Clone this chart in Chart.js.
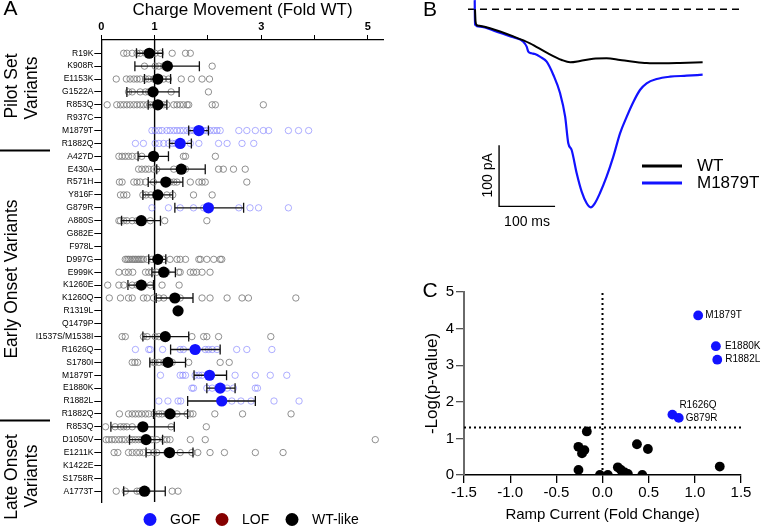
<!DOCTYPE html>
<html>
<head>
<meta charset="utf-8">
<title>Charge movement, ramp currents and volcano plot</title>
<script src="https://cdn.jsdelivr.net/npm/chart.js@4.4.1/dist/chart.umd.min.js"></script>
<style>
  body { margin: 0; background: #fff; }
  #fig { position: relative; width: 763px; height: 527px; overflow: hidden; }
  #fig canvas { position: absolute; }
</style>
</head>
<body>
<div id="fig">
  <canvas id="chartA" width="390" height="527" style="left:0;top:0"></canvas>
  <canvas id="chartB" width="343" height="241" style="left:420px;top:0"></canvas>
  <canvas id="chartC" width="383" height="257" style="left:380px;top:270px"></canvas>
</div>
<script>
// ---- Panel A: charge movement per variant (fold WT) ----
const ROW_LABELS = ['R19K', 'K908R', 'E1153K', 'G1522A', 'R853Q', 'R937C', 'M1879T', 'R1882Q',
  'A427D', 'E430A', 'R571H', 'Y816F', 'G879R', 'A880S', 'G882E', 'F978L', 'D997G', 'E999K',
  'K1260E', 'K1260Q', 'R1319L', 'Q1479P', 'I1537S/M1538I', 'R1626Q', 'S1780I', 'M1879T',
  'E1880K', 'R1882L', 'R1882Q', 'R853Q', 'D1050V', 'E1211K', 'K1422E', 'S1758R', 'A1773T'];
const GOF_ROWS = [6, 7, 12, 23, 25, 26, 27];

const MEANS = [0.90, 1.24, 1.06, 0.97, 1.06, null, 1.83, 1.48, 0.98, 1.50, 1.21, 1.06, 2.01, 0.75,
  null, null, 1.06, 1.17, 0.75, 1.38, 1.44, null, 1.20, 1.76, 1.25, 2.03, 2.23, 2.26, 1.29, 0.78,
  0.84, 1.28, null, null, 0.81];
const ERR_LO = [0.66, 0.63, 0.81, 0.48, 0.88, null, 1.64, 1.28, 0.69, 1.04, 0.88, 0.78, 1.38, 0.38,
  null, null, 0.89, 0.95, 0.50, 1.03, null, null, 0.78, 1.30, 0.91, 1.74, 1.98, 1.62, 0.98, 0.18,
  0.53, 0.84, null, null, 0.42];
const ERR_HI = [1.15, 1.84, 1.30, 1.46, 1.23, null, 2.01, 1.69, 1.26, 1.95, 1.53, 1.34, 2.67, 1.11,
  null, null, 1.21, 1.39, 0.98, 1.72, null, null, 1.64, 2.23, 1.58, 2.35, 2.51, 2.89, 1.62, 1.37,
  1.15, 1.72, null, null, 1.20];

// individual cells, one list per row
const CELL_VALUES = [
  [0.42, 0.48, 0.58, 0.67, 0.73, 0.83, 0.92, 1.01, 1.11, 1.33, 1.58, 1.67],
  [0.81, 1.01, 1.08, 1.17, 1.23, 2.08],
  [0.28, 0.47, 0.54, 0.61, 0.67, 0.73, 0.83, 0.89, 0.98, 1.08, 1.17, 1.26, 1.50, 1.69, 1.89, 2.03],
  [0.51, 0.58, 0.73, 0.83, 0.89, 1.01, 1.31, 2.01],
  [0.11, 0.29, 0.36, 0.42, 0.48, 0.54, 0.61, 0.67, 0.73, 0.79, 0.86, 0.92, 0.98, 1.04, 1.11, 1.17,
    1.23, 1.36, 1.42, 1.48, 1.54, 1.61, 1.64, 2.08, 2.14, 3.04],
  [],
  [0.95, 1.01, 1.08, 1.14, 1.23, 1.29, 1.36, 1.42, 1.48, 1.54, 1.61, 1.67, 1.73, 1.79, 1.86, 1.92,
    1.98, 2.04, 2.11, 2.17, 2.23, 2.58, 2.73, 2.89, 3.04, 3.14, 3.51, 3.70, 3.89],
  [0.64, 0.79, 1.01, 1.08, 1.17, 1.26, 1.33, 1.39, 1.51, 1.67, 1.83, 2.20, 2.36, 2.64, 2.86],
  [0.33, 0.39, 0.45, 0.51, 0.58, 0.67, 0.76, 1.54, 1.58, 2.14],
  [0.70, 0.76, 0.83, 0.89, 0.98, 1.04, 1.36, 1.51, 1.58, 2.20, 2.29, 2.48, 2.70],
  [0.34, 0.39, 0.61, 0.67, 0.73, 0.83, 0.98, 1.29, 1.36, 1.42, 1.67, 1.83, 1.89, 1.95, 2.73],
  [0.36, 0.42, 0.48, 0.78, 0.84, 0.93, 1.04, 1.23, 1.34, 1.73, 2.08],
  [0.95, 1.26, 1.48, 1.73, 1.92, 2.01, 2.58, 2.79, 2.95, 3.51],
  [0.33, 0.36, 0.42, 0.48, 0.58, 0.67, 0.76, 0.92, 1.19, 1.98],
  [],
  [],
  [0.45, 0.48, 0.51, 0.54, 0.58, 0.61, 0.64, 0.67, 0.70, 0.73, 0.76, 0.79, 0.86, 0.95, 1.08, 1.17,
    1.29, 1.42, 1.48, 1.58, 1.83, 1.86, 1.98, 2.11, 2.23, 2.26],
  [0.33, 0.45, 0.51, 0.59, 0.83, 0.89, 0.95, 1.04, 1.23, 1.45, 1.48, 1.67, 1.73, 1.79, 1.89, 2.04],
  [0.12, 0.33, 0.42, 0.58, 0.67, 0.79, 0.92, 1.14, 1.46],
  [0.15, 0.36, 0.51, 0.58, 0.79, 0.86, 0.98, 1.08, 1.17, 1.36, 1.48, 1.89, 2.04, 2.36, 2.64, 2.76, 3.65],
  [],
  [],
  [0.39, 0.45, 0.79, 0.86, 1.01, 1.08, 1.17, 1.70, 1.92, 1.98, 2.20, 3.18],
  [0.64, 0.89, 0.92, 1.15, 1.48, 1.54, 1.95, 2.01, 2.08, 2.17, 2.54, 2.73, 3.20],
  [0.58, 0.63, 0.68, 0.98, 1.01, 1.08, 1.17, 1.33, 1.64, 2.23, 2.40],
  [1.11, 1.48, 1.53, 1.58, 1.76, 1.83, 1.89, 2.51, 2.89, 3.17, 3.48],
  [1.70, 1.73, 1.98, 2.08, 2.23, 2.36, 2.48, 2.89, 2.93],
  [1.08, 1.25, 1.44, 1.49, 2.23, 2.45, 2.62, 2.81, 3.24, 3.71],
  [0.34, 0.51, 0.58, 0.64, 0.70, 0.76, 0.83, 0.89, 0.99, 1.08, 1.14, 1.23, 1.33, 1.42, 1.61, 1.67,
    1.72, 2.13, 2.65, 3.56],
  [0.08, 0.26, 0.36, 0.42, 0.48, 0.58, 1.31, 1.97],
  [0.09, 0.14, 0.20, 0.26, 0.33, 0.39, 0.45, 0.53, 0.58, 0.64, 0.70, 0.76, 0.83, 0.95, 1.04, 1.17,
    1.23, 1.29, 1.67, 1.95, 5.14],
  [0.24, 0.31, 0.51, 0.58, 0.66, 0.72, 0.79, 0.89, 0.98, 1.04, 1.23, 1.48, 1.70, 1.81, 2.04, 2.31, 2.89, 3.41],
  [],
  [],
  [0.28, 0.45, 0.67, 0.72, 0.86, 1.33, 1.44]
];
const A_X_TICK_LABELS = ['0', '1', '', '3', '', '5'];
const A_LEGEND = ['GOF', 'LOF', 'WT-like'];

// ---- Panel B: ramp current traces (ms, pA) ----
const TRACE_NAMES = ['WT', 'M1879T'];
const WT_TIME = [0, 1, 3, 8, 26.8, 68.5, 98.2, 128, 155, 170, 187.5, 211, 235, 259, 283, 306.5, 336, 366, 406.5];
const WT_CURRENT = [0, -20, -25.7, -27, -31.1, -44.5, -55.8, -71.1, -83.1, -86.9, -84.8, -81, -80.3,
  -83.1, -85.9, -88, -88.5, -88, -86.9];
const MUT_TIME = [-0.5, 0, 8.9, 38.7, 68.5, 86.3, 92.3, 95.2, 101, 107, 116, 128, 140, 152, 161,
  166.6, 172.6, 181.6, 190.5, 199.4, 206.6, 214, 223, 235, 247, 259, 271, 283, 294.6, 306.5, 324.5,
  348, 378, 406.5];
const MUT_CURRENT = [15, -25, -28.5, -36.7, -46, -53.1, -61.3, -69.5, -72.1, -73.3, -77.7, -85.9,
  -107.7, -137.7, -176, -219.7, -230.7, -268.9, -299, -318, -324.6, -318, -301.6, -274.4, -241.6,
  -203.3, -176, -151.5, -132.3, -121.3, -114.3, -110.5, -108.9, -107.2];
const BASELINE_TIME = [-12.5, 477];
const SCALE_BAR_ORIGIN = [43, -323];
const SCALE_BAR_MS = 100;
const SCALE_BAR_PA = 100;

// ---- Panel C: volcano plot ----
const C_GOF_NAMES = ['M1879T', 'E1880K', 'R1882L', 'R1626Q', 'G879R'];
const C_GOF_X = [1.036, 1.228, 1.243, 0.757, 0.826];
const C_GOF_Y = [4.36, 3.52, 3.15, 1.65, 1.56];
const C_WT_X = [-0.261, -0.222, -0.196, -0.170, -0.260, -0.028, 0.058, 0.166, 0.200, 0.240, 0.275, 0.373, 0.492, 0.431, 1.270];
const C_WT_Y = [0.77, 0.59, 0.68, 1.19, 0.14, 0, 0, 0.21, 0.14, 0.07, 0.03, 0.84, 0.71, 0, 0.23];
const C_X_TICKS = ['-1.5', '-1.0', '-0.5', '0.0', '0.5', '1.0', '1.5'];
const C_Y_TICKS = ['0', '1', '2', '3', '4', '5'];
const P_THRESHOLD = 1.3;

const FONT = "'Liberation Sans', Arial, Helvetica, sans-serif";
const BLUE = '#1212ff';
const GREY_RING = 'rgba(125,125,125,0.85)';
const BLUE_RING = 'rgba(110,110,255,0.55)';
const LOF_RED = '#850000';

Chart.defaults.font.family = FONT;
Chart.defaults.color = '#000';
Chart.defaults.animation = false;

const isGof = i => GOF_ROWS.includes(i);

// ---------------- Panel A ----------------
const A_Y_MIN = -1.03, A_Y_MAX = 34.84;

const meanPoints = [], meanColors = [];
MEANS.forEach((m, i) => {
  if (m == null) return;
  meanPoints.push({ x: m, y: i });
  meanColors.push(isGof(i) ? BLUE : '#000');
});
const greyCells = [], blueCells = [];
CELL_VALUES.forEach((vals, i) => {
  vals.forEach(v => (isGof(i) ? blueCells : greyCells).push({ x: v, y: i }));
});

const errorBars = {
  id: 'errorBars',
  beforeDatasetDraw(chart, args) {
    if (args.index !== 0) return;
    const { ctx, scales: { x, y } } = chart;
    ctx.save();
    ctx.strokeStyle = '#111';
    ctx.lineWidth = 1.3;
    ERR_LO.forEach((lo, i) => {
      const hi = ERR_HI[i];
      if (lo == null || hi == null) return;
      const py = y.getPixelForValue(i);
      const x0 = x.getPixelForValue(lo), x1 = x.getPixelForValue(hi);
      ctx.beginPath();
      ctx.moveTo(x0, py); ctx.lineTo(x1, py);
      ctx.moveTo(x0, py - 5); ctx.lineTo(x0, py + 5);
      ctx.moveTo(x1, py - 5); ctx.lineTo(x1, py + 5);
      ctx.stroke();
    });
    ctx.restore();
  }
};

function rotatedText(ctx, text, x, y) {
  ctx.save();
  ctx.translate(x, y);
  ctx.rotate(-Math.PI / 2);
  ctx.fillText(text, 0, 0);
  ctx.restore();
}

const panelADecor = {
  id: 'panelADecor',
  afterDraw(chart) {
    const { ctx, scales: { y } } = chart;
    ctx.save();
    ctx.fillStyle = '#000';
    ctx.textAlign = 'center';
    ctx.textBaseline = 'middle';
    ctx.font = `21px ${FONT}`;
    ctx.fillText('A', 10.5, 9.5);

    ctx.font = `17.5px ${FONT}`;
    rotatedText(ctx, 'Pilot Set', 12, 86);
    rotatedText(ctx, 'Variants', 32, 88);
    rotatedText(ctx, 'Early Onset Variants', 12, 279);
    rotatedText(ctx, 'Late Onset', 12, 477);
    rotatedText(ctx, 'Variants', 32, 476);

    // group separators between row blocks
    ctx.strokeStyle = '#000';
    ctx.lineWidth = 2;
    [7.5, 28.5].forEach(r => {
      const py = Math.round(y.getPixelForValue(r)) + 0.5;
      ctx.beginPath(); ctx.moveTo(0, py); ctx.lineTo(50, py); ctx.stroke();
    });

    // legend
    const legendColors = [BLUE, LOF_RED, '#000'];
    const legendX = [150, 222, 292];
    ctx.font = `14px ${FONT}`;
    ctx.textAlign = 'left';
    A_LEGEND.forEach((name, i) => {
      ctx.fillStyle = legendColors[i];
      ctx.beginPath(); ctx.arc(legendX[i], 519.5, 6.5, 0, Math.PI * 2); ctx.fill();
      ctx.fillStyle = '#000';
      ctx.fillText(name, legendX[i] + 20, 520);
    });
    ctx.restore();
  }
};

new Chart(document.getElementById('chartA'), {
  type: 'scatter',
  data: {
    datasets: [
      { label: 'mean', data: meanPoints, pointRadius: 5.6, pointHoverRadius: 5.6,
        pointBackgroundColor: meanColors, pointBorderWidth: 0, order: 0 },
      { label: 'GOF cells', data: blueCells, pointRadius: 3.2, pointBorderWidth: 1,
        pointBorderColor: BLUE_RING, pointBackgroundColor: 'rgba(0,0,0,0)', order: 2 },
      { label: 'cells', data: greyCells, pointRadius: 3.2, pointBorderWidth: 1,
        pointBorderColor: GREY_RING, pointBackgroundColor: 'rgba(0,0,0,0)', order: 3 },
      { label: 'WT', data: [{ x: 1, y: A_Y_MIN }, { x: 1, y: A_Y_MAX }], showLine: true,
        borderColor: '#000', borderWidth: 1.4, pointRadius: 0, order: 4 }
    ]
  },
  options: {
    responsive: false,
    layout: { padding: { left: 0, top: 0, right: 6.2, bottom: 25 } },
    plugins: { legend: { display: false }, tooltip: { enabled: false } },
    scales: {
      x: {
        type: 'linear', position: 'top', min: 0, max: 5.3,
        afterFit: s => { s.height = 40; },
        ticks: {
          stepSize: 1, includeBounds: false, padding: 1,
          font: { size: 11, weight: 'bold' },
          callback: (v) => A_X_TICK_LABELS[v] ?? ''
        },
        grid: { drawOnChartArea: false, drawTicks: true, tickLength: 5, color: '#000' },
        border: { display: true, color: '#000', width: 1.3 },
        title: { display: true, text: 'Charge Movement (Fold WT)', font: { size: 17 },
          padding: { top: 0.5, bottom: 0 } }
      },
      y: {
        type: 'linear', reverse: true, min: A_Y_MIN, max: A_Y_MAX,
        afterFit: s => { s.width = 101.3; },
        afterBuildTicks: s => { s.ticks = ROW_LABELS.map((_, i) => ({ value: i })); },
        ticks: {
          autoSkip: false, padding: 1, font: { size: 8.5 },
          callback: (v) => ROW_LABELS[v] ?? ''
        },
        grid: { drawOnChartArea: false, drawTicks: true, tickLength: 7, color: '#000' },
        border: { display: true, color: '#000', width: 1.3 }
      }
    }
  },
  plugins: [errorBars, panelADecor]
});

// ---------------- Panel B ----------------
const toPoints = (xs, ys) => xs.map((x, i) => ({ x, y: ys[i] }));
const sb = SCALE_BAR_ORIGIN;

const panelBDecor = {
  id: 'panelBDecor',
  afterDraw(chart) {
    const { ctx, scales: { x, y } } = chart;
    ctx.save();
    ctx.fillStyle = '#000';
    ctx.textAlign = 'center';
    ctx.textBaseline = 'middle';
    ctx.font = `21px ${FONT}`;
    ctx.fillText('B', 10, 10.5);

    const bx = x.getPixelForValue(sb[0]);
    const by = y.getPixelForValue(sb[1]);
    ctx.font = `14px ${FONT}`;
    ctx.fillText(`${SCALE_BAR_MS} ms`, bx + 28, by + 16);
    rotatedText(ctx, `${SCALE_BAR_PA} pA`, bx - 11, by - 31);

    const colors = ['#000', BLUE];
    ctx.textAlign = 'left';
    ctx.font = `17px ${FONT}`;
    TRACE_NAMES.forEach((name, i) => {
      const ly = 166 + i * 17;
      ctx.strokeStyle = colors[i];
      ctx.lineWidth = 3;
      ctx.beginPath(); ctx.moveTo(222, ly); ctx.lineTo(262, ly); ctx.stroke();
      ctx.fillText(name, 277, ly + 0.5);
    });
    ctx.restore();
  }
};

new Chart(document.getElementById('chartB'), {
  type: 'scatter',
  data: {
    datasets: [
      { label: 'WT', data: toPoints(WT_TIME, WT_CURRENT), showLine: true, borderColor: '#000',
        borderWidth: 2, pointRadius: 0, cubicInterpolationMode: 'monotone', order: 0 },
      { label: 'M1879T', data: toPoints(MUT_TIME, MUT_CURRENT), showLine: true, borderColor: BLUE,
        borderWidth: 2.2, pointRadius: 0, cubicInterpolationMode: 'monotone', order: 1 },
      { label: 'baseline', data: toPoints(BASELINE_TIME, [0, 0]), showLine: true, borderColor: '#000',
        borderWidth: 1.5, borderDash: [7, 5], pointRadius: 0, order: 2 },
      { label: 'scale bar', showLine: true, borderColor: '#000', borderWidth: 1.4, pointRadius: 0, order: 3,
        data: [{ x: sb[0], y: sb[1] + SCALE_BAR_PA }, { x: sb[0], y: sb[1] }, { x: sb[0] + SCALE_BAR_MS, y: sb[1] }] }
    ]
  },
  options: {
    responsive: false,
    layout: { padding: 0 },
    plugins: { legend: { display: false }, tooltip: { enabled: false } },
    scales: {
      x: { type: 'linear', display: false, min: -98.2, max: 514.3 },
      y: { type: 'linear', display: false, min: -379.8, max: 15.2 }
    }
  },
  plugins: [panelBDecor]
});

// ---------------- Panel C ----------------
const panelCDecor = {
  id: 'panelCDecor',
  afterDraw(chart) {
    const { ctx, scales: { x, y } } = chart;
    ctx.save();
    ctx.fillStyle = '#000';
    ctx.textAlign = 'center';
    ctx.textBaseline = 'middle';
    ctx.font = `21px ${FONT}`;
    ctx.fillText('C', 50, 21);

    // label offsets in px for the named points
    const offs = [[7, 0], [9, 0], [8, 0], [7, -9], [7, 0]];
    ctx.font = `10px ${FONT}`;
    ctx.textAlign = 'left';
    C_GOF_NAMES.forEach((name, i) => {
      const px = x.getPixelForValue(C_GOF_X[i]) + offs[i][0];
      const py = y.getPixelForValue(C_GOF_Y[i]) + offs[i][1];
      ctx.fillText(name, px, py);
    });
    ctx.restore();
  }
};

new Chart(document.getElementById('chartC'), {
  type: 'scatter',
  data: {
    datasets: [
      { label: 'GOF', data: toPoints(C_GOF_X, C_GOF_Y), pointRadius: 4.9, pointBorderWidth: 0,
        pointBackgroundColor: BLUE, order: 0 },
      { label: 'WT-like', data: toPoints(C_WT_X, C_WT_Y), pointRadius: 4.9, pointBorderWidth: 0,
        pointBackgroundColor: '#000', order: 1, clip: { left: 10, top: 10, right: 10, bottom: 0 } },
      { label: 'p = 0.05', data: toPoints([-1.5, 1.5], [P_THRESHOLD, P_THRESHOLD]), showLine: true,
        borderColor: '#000', borderWidth: 2, borderDash: [2, 3], pointRadius: 0, order: 2 },
      { label: 'zero', data: toPoints([0, 0], [0, 5]), showLine: true,
        borderColor: '#000', borderWidth: 2, borderDash: [2, 3], pointRadius: 0, order: 3 }
    ]
  },
  options: {
    responsive: false,
    layout: { padding: { left: 40, top: 22, right: 22, bottom: 0 } },
    plugins: { legend: { display: false }, tooltip: { enabled: false } },
    scales: {
      x: {
        type: 'linear', min: -1.5, max: 1.5,
        afterFit: s => { s.height = 52; },
        ticks: { stepSize: 0.5, padding: 1, font: { size: 15 },
          callback: (v) => C_X_TICKS[Math.round((v + 1.5) * 2)] },
        grid: { drawOnChartArea: false, tickLength: 8, color: '#000', lineWidth: 1.3 },
        border: { display: true, color: '#000', width: 1.5 },
        title: { display: true, text: 'Ramp Current (Fold Change)', font: { size: 15 },
          padding: { top: 0, bottom: 3 } }
      },
      y: {
        type: 'linear', min: 0, max: 5,
        afterFit: s => { s.width = 44; },
        ticks: { stepSize: 1, padding: 2, font: { size: 15 },
          callback: (v) => C_Y_TICKS[v] },
        grid: { drawOnChartArea: false, tickLength: 8, color: '#555', lineWidth: 1.3 },
        border: { display: true, color: '#6a6a6a', width: 2 },
        title: { display: true, text: '-Log(p-value)', font: { size: 17 },
          padding: { top: 2, bottom: 0 } }
      }
    }
  },
  plugins: [panelCDecor]
});
</script>
</body>
</html>
